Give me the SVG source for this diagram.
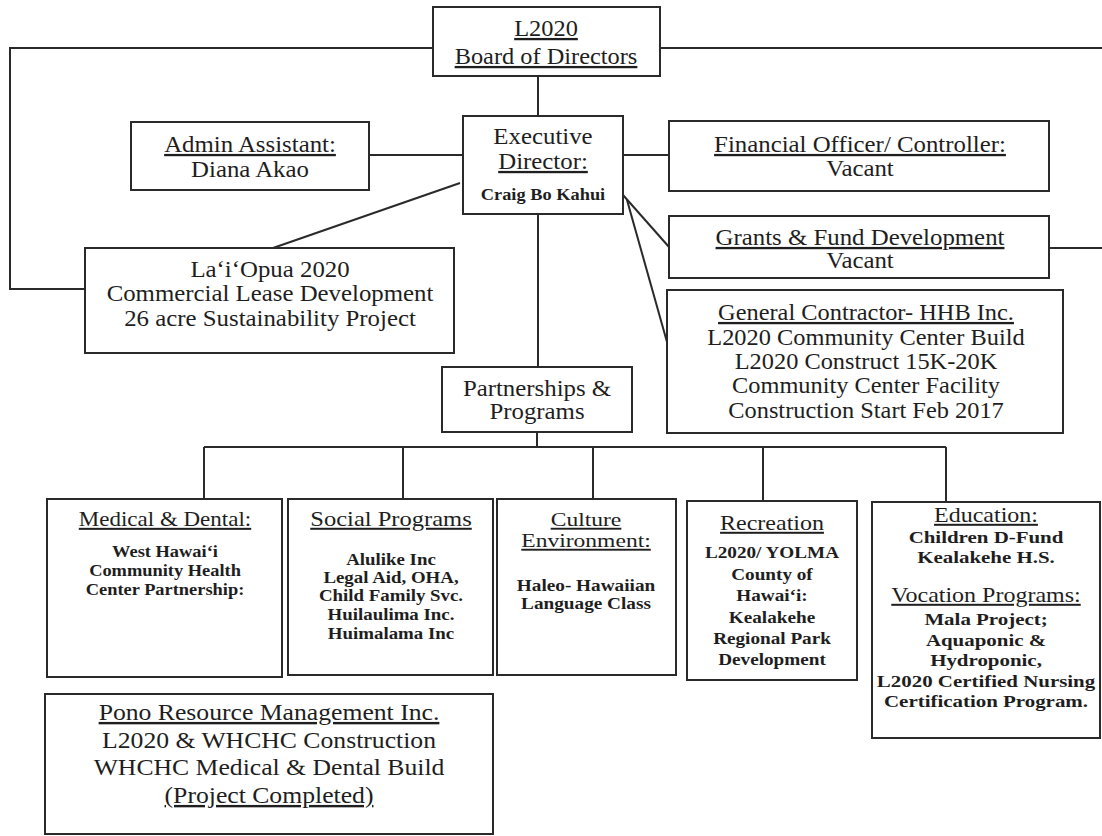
<svg xmlns="http://www.w3.org/2000/svg" width="1102" height="836" viewBox="0 0 1102 836">
<style>
.box{fill:#fff;stroke:#2a2a2a;stroke-width:2}
.ln{fill:none;stroke:#2a2a2a;stroke-width:2}
text{font-family:"Liberation Serif","Times New Roman",serif;fill:#1e1e1e;text-anchor:middle}
.t{font-size:23px}
.u{text-decoration:underline}
.h{font-size:20px}
.b{font-size:16px;font-weight:bold}
.n{font-size:17px;font-weight:bold}
.p{font-size:24px}
</style>
<rect width="1102" height="836" fill="#fff"/>
<g id="connectors">
<polyline class="ln" points="433,48 10,48 10,289 85,289"/>
<line class="ln" x1="660" y1="48" x2="1102" y2="48"/>
<line class="ln" x1="538" y1="76" x2="538" y2="116"/>
<line class="ln" x1="369" y1="155" x2="463" y2="155"/>
<line class="ln" x1="623" y1="155" x2="669" y2="155"/>
<line class="ln" x1="623" y1="195" x2="669" y2="247"/>
<line class="ln" x1="627" y1="200" x2="667" y2="342"/>
<line class="ln" x1="460" y1="183" x2="273" y2="248"/>
<line class="ln" x1="1049" y1="248" x2="1102" y2="248"/>
<line class="ln" x1="538" y1="214" x2="538" y2="367"/>
<line class="ln" x1="537" y1="432" x2="537" y2="447"/>
<line class="ln" x1="204" y1="447" x2="946" y2="447"/>
<line class="ln" x1="204" y1="447" x2="204" y2="499"/>
<line class="ln" x1="403" y1="447" x2="403" y2="499"/>
<line class="ln" x1="593" y1="447" x2="593" y2="499"/>
<line class="ln" x1="763" y1="447" x2="763" y2="501"/>
<line class="ln" x1="946" y1="447" x2="946" y2="502"/>
</g>
<g id="board">
<rect class="box" x="433" y="7" width="227" height="69"/>
<g transform="translate(546 0) scale(1.06 1)">
<text class="t u" x="0" y="36">L2020</text>
<text class="t u" x="0" y="64">Board of Directors</text>
</g>
</g>
<g id="exec">
<rect class="box" x="463" y="116" width="160" height="98"/>
<g transform="translate(543 0) scale(1.08 1)">
<text class="t" x="0" y="144">Executive</text>
<text class="t u" x="0" y="169">Director:</text>
<text class="n" x="0" y="200">Craig Bo Kahui</text>
</g>
</g>
<g id="admin">
<rect class="box" x="131" y="122" width="238" height="68"/>
<g transform="translate(250 0) scale(1.08 1)">
<text class="t u" x="0" y="152">Admin Assistant:</text>
<text class="t" x="0" y="177">Diana Akao</text>
</g>
</g>
<g id="finance">
<rect class="box" x="669" y="121" width="380" height="70"/>
<g transform="translate(860 0) scale(1.08 1)">
<text class="t u" x="0" y="152">Financial Officer/ Controller:</text>
<text class="t" x="0" y="176">Vacant</text>
</g>
</g>
<g id="grants">
<rect class="box" x="669" y="216" width="380" height="62"/>
<g transform="translate(860 0) scale(1.08 1)">
<text class="t u" x="0" y="245">Grants &amp; Fund Development</text>
<text class="t" x="0" y="268">Vacant</text>
</g>
</g>
<g id="laiopua">
<rect class="box" x="85" y="248" width="369" height="105"/>
<g transform="translate(270 0) scale(1.08 1)">
<text class="t" x="0" y="277">La‘i‘Opua 2020</text>
<text class="t" x="0" y="301">Commercial Lease Development</text>
<text class="t" x="0" y="326">26 acre Sustainability Project</text>
</g>
</g>
<g id="contractor">
<rect class="box" x="667" y="290" width="396" height="143"/>
<g transform="translate(866 0) scale(1.06 1)">
<text class="t u" x="0" y="320">General Contractor- HHB Inc.</text>
<text class="t" x="0" y="345">L2020 Community Center Build</text>
<text class="t" x="0" y="369">L2020 Construct 15K-20K</text>
<text class="t" x="0" y="393">Community Center Facility</text>
<text class="t" x="0" y="418">Construction Start Feb 2017</text>
</g>
</g>
<g id="partnerships">
<rect class="box" x="442" y="367" width="190" height="65"/>
<g transform="translate(537 0) scale(1.08 1)">
<text class="t" x="0" y="396">Partnerships &amp;</text>
<text class="t" x="0" y="419">Programs</text>
</g>
</g>
<g id="medical">
<rect class="box" x="47" y="499" width="235" height="178"/>
<g transform="translate(165 0) scale(1.15 1)">
<text class="h u" x="0" y="526">Medical &amp; Dental:</text>
<text class="b" x="0" y="557">West Hawai‘i</text>
<text class="b" x="0" y="576">Community Health</text>
<text class="b" x="0" y="595">Center Partnership:</text>
</g>
</g>
<g id="social">
<rect class="box" x="288" y="499" width="205" height="176"/>
<g transform="translate(391 0) scale(1.18 1)">
<text class="h u" x="0" y="526" transform="scale(1.04 1)">Social Programs</text>
<text class="b" x="0" y="565">Alulike Inc</text>
<text class="b" x="0" y="583">Legal Aid, OHA,</text>
<text class="b" x="0" y="601">Child Family Svc.</text>
<text class="b" x="0" y="620">Huilaulima Inc.</text>
<text class="b" x="0" y="639">Huimalama Inc</text>
</g>
</g>
<g id="culture">
<rect class="box" x="497" y="499" width="179" height="176"/>
<g transform="translate(586 0) scale(1.24 1)">
<text class="u" x="0" y="526" font-size="19">Culture</text>
<text class="u" x="0" y="547" font-size="19">Environment:</text>
<text class="b" x="0" y="591" transform="scale(0.97 1)">Haleo-  Hawaiian</text>
<text class="b" x="0" y="609" transform="scale(0.97 1)">Language Class</text>
</g>
</g>
<g id="recreation">
<rect class="box" x="687" y="501" width="170" height="179"/>
<g transform="translate(772 0) scale(1.2 1)">
<text class="h u" x="0" y="530">Recreation</text>
<text class="b" x="0" y="558">L2020/ YOLMA</text>
<text class="b" x="0" y="580">County of</text>
<text class="b" x="0" y="601">Hawai‘i:</text>
<text class="b" x="0" y="623">Kealakehe</text>
<text class="b" x="0" y="644">Regional Park</text>
<text class="b" x="0" y="665">Development</text>
</g>
</g>
<g id="education">
<rect class="box" x="872" y="502" width="228" height="236"/>
<g transform="translate(986 0) scale(1.2 1)">
<text class="h u" x="0" y="522">Education:</text>
<text class="h u" x="0" y="602">Vocation Programs:</text>
<g transform="scale(1.09 1)">
<text class="b" x="0" y="543">Children D-Fund</text>
<text class="b" x="0" y="563">Kealakehe H.S.</text>
<text class="b" x="0" y="625">Mala Project;</text>
<text class="b" x="0" y="646">Aquaponic &amp;</text>
<text class="b" x="0" y="666">Hydroponic,</text>
<text class="b" x="0" y="687">L2020 Certified Nursing</text>
<text class="b" x="0" y="707">Certification Program.</text>
</g>
</g>
</g>
<g id="pono">
<rect class="box" x="45" y="694" width="448" height="140"/>
<g transform="translate(269 0) scale(1.07 1)">
<text class="p u" x="0" y="720">Pono Resource Management Inc.</text>
<text class="p" x="0" y="748">L2020 &amp; WHCHC Construction</text>
<text class="p" x="0" y="775">WHCHC Medical &amp; Dental Build</text>
<text class="p u" x="0" y="803">(Project Completed)</text>
</g>
</g>
</svg>
